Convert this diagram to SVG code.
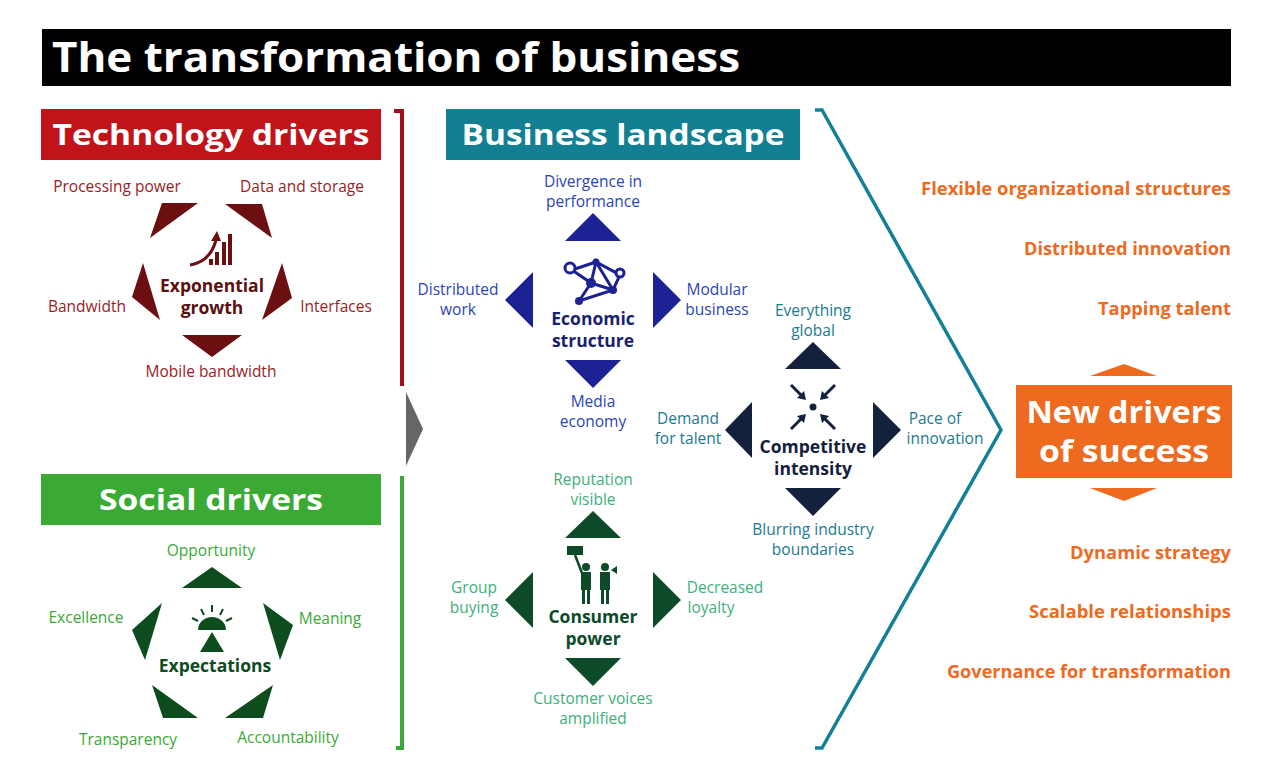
<svg xmlns="http://www.w3.org/2000/svg" width="1273" height="766" viewBox="0 0 1273 766">
<style>
text{font-family:"Open Sans","Liberation Sans",sans-serif}
.hdr{font-weight:bold;fill:#fff;font-size:29px;text-anchor:middle}
.lb{font-size:15.5px;text-anchor:middle}
.ctr{font-size:17.5px;font-weight:bold;text-anchor:middle}
.tr{fill:#6b0f10}.trl{fill:#9b1c1f}
.sg{fill:#0d4d1d}.sgl{fill:#3aaa35}
.ec{fill:#1c2194}.ecl{fill:#2a45b8}
.ci{fill:#14213d}.cil{fill:#1a7a90}
.cp{fill:#0c4a2a}.cpl{fill:#3db07a}
.or{fill:#ee6a1f;font-weight:bold;font-size:17px;text-anchor:end}
</style>
<rect width="1273" height="766" fill="#fff"/>
<g id="title"><rect x="42" y="29" width="1189" height="57" fill="#000"/><text x="52" y="72" fill="#fff" font-size="41" font-weight="bold" textLength="688" lengthAdjust="spacingAndGlyphs">The transformation of business</text></g>

<g id="connectors" fill="none" stroke-width="4">
<path d="M394 111 H402 V386" stroke="#a50f1a"/>
<path d="M402 476 V748 H396" stroke="#3aaa35"/>
<path d="M815 110 H822 L1001 430 L822 748 H815" stroke="#13809a" stroke-width="3.5"/>
<polygon points="406,392 423,429 406,466" fill="#666" stroke="none"/>
</g>

<g id="tech">
<rect x="41" y="109" width="340" height="51" fill="#c0141a"/>
<text class="hdr" x="211" y="145" textLength="317" lengthAdjust="spacingAndGlyphs">Technology drivers</text>
<g class="tr">
<polygon points="162,203 198,203 150,238"/><polygon points="225,204 262,204 272,238"/>
<polygon points="143,263 160,320 132,297"/><polygon points="282,263 292,298 262,320"/>
<polygon points="182,335 242,335 212,357"/>
</g>
<g fill="#6b0f10"><rect x="209" y="259" width="4" height="6"/><rect x="215" y="252" width="4" height="13"/><rect x="222" y="242" width="4" height="23"/><rect x="228" y="234" width="4" height="31"/></g>
<path d="M190 265 Q210 262 216 240" fill="none" stroke="#6b0f10" stroke-width="3"/><polygon points="211,241 221,241 217,231" fill="#6b0f10"/>
<text class="ctr" x="212" y="292" fill="#5a0f10">Exponential</text><text class="ctr" x="212" y="314" fill="#5a0f10">growth</text>
<g class="trl"><text class="lb" x="117" y="192">Processing power</text><text class="lb" x="302" y="192">Data and storage</text><text class="lb" x="87" y="312">Bandwidth</text><text class="lb" x="336" y="312">Interfaces</text><text class="lb" x="211" y="377">Mobile bandwidth</text></g>
</g>

<g id="social">
<rect x="41" y="474" width="340" height="51" fill="#3aaa35"/>
<text class="hdr" x="211" y="510" textLength="224" lengthAdjust="spacingAndGlyphs">Social drivers</text>
<g class="sg">
<polygon points="182,588 242,588 212,567"/><polygon points="162,603 132,630 145,660"/>
<polygon points="263,603 293,625 280,660"/><polygon points="152,685 163,718 198,718"/>
<polygon points="273,685 225,718 263,718"/>
<path d="M198 630 A14 13 0 0 1 226 630 Z"/><polygon points="212,632 200,652 224,652"/>
</g>
<g stroke="#0d4d1d" stroke-width="2"><line x1="212" y1="605" x2="212" y2="612"/><line x1="201" y1="609" x2="204" y2="615"/><line x1="223" y1="609" x2="220" y2="615"/><line x1="192" y1="618" x2="198" y2="621"/><line x1="232" y1="618" x2="226" y2="621"/></g>
<text class="ctr" x="215" y="672" fill="#0d4d1d">Expectations</text>
<g class="sgl"><text class="lb" x="211" y="556">Opportunity</text><text class="lb" x="86" y="623">Excellence</text><text class="lb" x="330" y="624">Meaning</text><text class="lb" x="128" y="745">Transparency</text><text class="lb" x="288" y="743">Accountability</text></g>
</g>

<g id="landscape"><rect x="446" y="109" width="354" height="51" fill="#127f93"/><text class="hdr" x="623" y="145" textLength="323" lengthAdjust="spacingAndGlyphs">Business landscape</text></g>

<g id="economic">
<g class="ec"><polygon points="565,241 621,241 593,213"/><polygon points="533,272 533,328 505,300"/><polygon points="653,272 653,328 681,300"/><polygon points="565,360 621,360 593,388"/></g>
<g stroke="#1c2194" stroke-width="3" fill="none"><path d="M572 270 L596 262 L620 275 L613 290 L579 301 L591 283 Z M572 270 L591 283 L596 262 L613 290 M591 283 L613 290"/></g>
<g fill="#1c2194"><circle cx="591" cy="283" r="5"/><circle cx="579" cy="301" r="4"/><circle cx="613" cy="290" r="4"/><circle cx="596" cy="262" r="3.5"/></g>
<g fill="#fff" stroke="#1c2194" stroke-width="3"><circle cx="570" cy="268" r="5"/><circle cx="620" cy="273" r="4"/></g>
<text class="ctr" x="593" y="325" fill="#1a1f70">Economic</text><text class="ctr" x="593" y="347" fill="#1a1f70">structure</text>
<g class="ecl"><text class="lb" x="593" y="187">Divergence in</text><text class="lb" x="593" y="207">performance</text><text class="lb" x="458" y="295">Distributed</text><text class="lb" x="458" y="315">work</text><text class="lb" x="717" y="295">Modular</text><text class="lb" x="717" y="315">business</text><text class="lb" x="593" y="407">Media</text><text class="lb" x="593" y="427">economy</text></g>
</g>

<g id="competitive">
<g class="ci"><polygon points="785,369 841,369 813,342"/><polygon points="752,402 752,458 725,430"/><polygon points="873,402 873,458 901,430"/><polygon points="785,488 841,488 813,516"/><circle cx="813" cy="407" r="3.5"/></g>
<g stroke="#14213d" stroke-width="3"><line x1="791" y1="385" x2="802" y2="396"/><line x1="835" y1="385" x2="824" y2="396"/><line x1="791" y1="429" x2="802" y2="418"/><line x1="835" y1="429" x2="824" y2="418"/></g>
<g fill="#14213d"><polygon points="806,400 797,398 804,391"/><polygon points="820,400 829,398 822,391"/><polygon points="806,414 797,416 804,423"/><polygon points="820,414 829,416 822,423"/></g>
<text class="ctr" x="813" y="453" fill="#14213d">Competitive</text><text class="ctr" x="813" y="475" fill="#14213d">intensity</text>
<g class="cil"><text class="lb" x="813" y="316">Everything</text><text class="lb" x="813" y="336">global</text><text class="lb" x="688" y="424">Demand</text><text class="lb" x="688" y="444">for talent</text><text class="lb" x="935" y="424">Pace of</text><text class="lb" x="945" y="444">innovation</text><text class="lb" x="813" y="535">Blurring industry</text><text class="lb" x="813" y="555">boundaries</text></g>
</g>

<g id="consumer">
<g class="cp"><polygon points="565,538 621,538 593,511"/><polygon points="533,572 533,628 505,600"/><polygon points="653,572 653,628 681,600"/><polygon points="565,658 621,658 593,686"/>
<rect x="567" y="546" width="16" height="9"/><circle cx="586" cy="567" r="4"/><rect x="581" y="572" width="10" height="18"/><rect x="582" y="590" width="3" height="14"/><rect x="587" y="590" width="3" height="14"/>
<circle cx="605" cy="567" r="4"/><rect x="600" y="572" width="10" height="18"/><rect x="601" y="590" width="3" height="14"/><rect x="606" y="590" width="3" height="14"/><polygon points="611,570 617,566 617,574"/></g>
<line x1="575" y1="555" x2="582" y2="573" stroke="#0c4a2a" stroke-width="2.5"/>
<text class="ctr" x="593" y="623" fill="#0c4a2a">Consumer</text><text class="ctr" x="593" y="645" fill="#0c4a2a">power</text>
<g class="cpl"><text class="lb" x="593" y="485">Reputation</text><text class="lb" x="593" y="505">visible</text><text class="lb" x="474" y="593">Group</text><text class="lb" x="474" y="613">buying</text><text class="lb" x="725" y="593">Decreased</text><text class="lb" x="711" y="613">loyalty</text><text class="lb" x="593" y="704">Customer voices</text><text class="lb" x="593" y="724">amplified</text></g>
</g>

<g id="success">
<rect x="1016" y="385" width="216" height="93" fill="#ee6a1f"/>
<polygon points="1090,376 1157,376 1124,364" fill="#ee6a1f"/><polygon points="1090,488 1157,488 1124,501" fill="#ee6a1f"/>
<text x="1124" y="423" fill="#fff" font-size="30" font-weight="bold" text-anchor="middle" textLength="195" lengthAdjust="spacingAndGlyphs">New drivers</text>
<text x="1124" y="462" fill="#fff" font-size="30" font-weight="bold" text-anchor="middle" textLength="170" lengthAdjust="spacingAndGlyphs">of success</text>
<text class="or" x="1231" y="195" textLength="310" lengthAdjust="spacingAndGlyphs">Flexible organizational structures</text>
<text class="or" x="1231" y="255" textLength="207" lengthAdjust="spacingAndGlyphs">Distributed innovation</text>
<text class="or" x="1231" y="315" textLength="133" lengthAdjust="spacingAndGlyphs">Tapping talent</text>
<text class="or" x="1231" y="559" textLength="161" lengthAdjust="spacingAndGlyphs">Dynamic strategy</text>
<text class="or" x="1231" y="618" textLength="202" lengthAdjust="spacingAndGlyphs">Scalable relationships</text>
<text class="or" x="1231" y="678" textLength="284" lengthAdjust="spacingAndGlyphs">Governance for transformation</text>
</g>
</svg>
